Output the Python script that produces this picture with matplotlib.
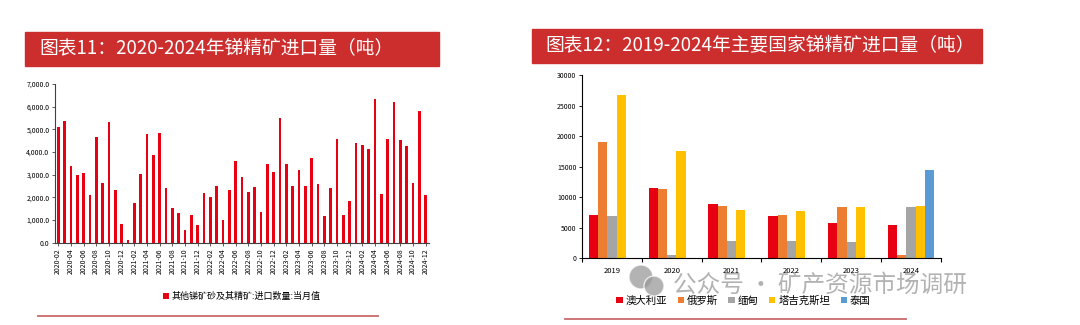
import matplotlib.pyplot as plt
import matplotlib.patches as patches
from matplotlib.ticker import FuncFormatter
import numpy as np

plt.rcParams['font.family'] = ['Noto Sans CJK SC', 'DejaVu Sans']

# chart 11: monthly imports 2020-02 .. 2024-12
months = [f'{y}-{m:02d}' for y in range(2020, 2025) for m in range(1, 13)][1:]
monthly_imports = [
    5090, 5350, 3380, 2970, 3060, 2100, 4660, 2630, 5310, 2310, 840,
    120, 1750, 3030, 4790, 3870, 4850, 2410, 1510, 1290, 540, 1240, 790,
    2180, 2010, 2500, 1000, 2320, 3600, 2880, 2240, 2470, 1350, 3460, 3130,
    5490, 3460, 2500, 3190, 2500, 3720, 2570, 1190, 2430, 4570, 1240, 1840,
    4400, 4310, 4120, 6350, 2150, 4570, 6210, 4510, 4260, 2630, 5810, 2090,
]

# chart 12: yearly imports by country
years = ['2019', '2020', '2021', '2022', '2023', '2024']
countries = ['澳大利亚', '俄罗斯', '缅甸', '塔吉克斯坦', '泰国']
australia = [7050, 11530, 8900, 6890, 5740, 5460]
russia = [19000, 11370, 8520, 7100, 8360, 490]
myanmar = [6940, 550, 2790, 2790, 2620, 8360]
tajikistan = [26780, 17540, 7920, 7810, 8420, 8580]
thailand = [0, 0, 0, 0, 0, 14480]
colors = ['#E60012', '#ED7D31', '#A5A5A5', '#FFC000', '#5B9BD5']

W, H = 1080, 325
fig = plt.figure(figsize=(10.8, 3.25), dpi=100)


def px(x, y):
    # pixel position (from top-left) -> figure fraction
    return x / W, 1 - y / H


# title banners
fig.patches.append(patches.Rectangle(px(25, 66), 414 / W, 34 / H,
                                     transform=fig.transFigure, color='#CC2E2E', zorder=0))
fig.text(*px(39, 49), '图表11：2020-2024年锑精矿进口量（吨）', color='white',
         fontsize=13.5, va='center', ha='left')
fig.patches.append(patches.Rectangle(px(532, 63), 450 / W, 34 / H,
                                     transform=fig.transFigure, color='#CC2E2E', zorder=0))
fig.text(*px(545, 46), '图表12：2019-2024年主要国家锑精矿进口量（吨）', color='white',
         fontsize=13.5, va='center', ha='left')

# bottom lines
fig.add_artist(plt.Line2D([38 / W, 378 / W], [1 - 315.7 / H] * 2,
                          transform=fig.transFigure, color='#C96B6B', lw=1.3))
fig.add_artist(plt.Line2D([565 / W, 906 / W], [1 - 319 / H] * 2,
                          transform=fig.transFigure, color='#C96B6B', lw=1.3))

# left chart
ax1 = fig.add_axes([55 / W, 1 - 242.7 / H, 374 / W, (242.7 - 84) / H])
x1 = np.arange(len(months))
ax1.bar(x1, monthly_imports, width=0.42, color='#E60012',
        label='其他锑矿砂及其精矿:进口数量:当月值')
ax1.set_xlim(-0.5, len(months) - 0.5)
ax1.set_ylim(0, 7000)
ax1.set_yticks(range(0, 7001, 1000))
ax1.yaxis.set_major_formatter(FuncFormatter(lambda v, p: f'{v:,.1f}'))
ax1.set_xticks(x1[::2])
ax1.set_xticklabels(months[::2], rotation=90)
ax1.tick_params(axis='both', labelsize=5, length=2, width=0.6, color='#404040', pad=2)
for s in ['top', 'right']:
    ax1.spines[s].set_visible(False)
for s in ['left', 'bottom']:
    ax1.spines[s].set_color('#404040')
    ax1.spines[s].set_linewidth(0.8)
ax1.legend(loc='center', bbox_to_anchor=(0.5, -0.34), frameon=False, fontsize=6.5,
           handlelength=0.6, handleheight=0.6, handletextpad=0.3)

# right chart
ax2 = fig.add_axes([582 / W, 1 - 258.3 / H, 359 / W, (258.3 - 75.3) / H])
x2 = np.arange(len(years))
w = 0.155
series = [australia, russia, myanmar, tajikistan, thailand]
for i, (vals, name, c) in enumerate(zip(series, countries, colors)):
    ax2.bar(x2 + (i - 2) * w, vals, width=w, color=c, label=name)
ax2.set_xlim(-0.5, len(years) - 0.5)
ax2.set_ylim(0, 30000)
ax2.set_yticks(range(0, 30001, 5000))
ax2.set_xticks(x2)
ax2.set_xticklabels(years)
ax2.set_xticks(np.arange(-0.5, len(years), 1), minor=True)
ax2.tick_params(axis='x', which='major', length=0, labelsize=5.5, pad=6)
ax2.tick_params(axis='x', which='minor', length=3, width=0.8, color='black')
ax2.tick_params(axis='y', labelsize=5, length=2, width=0.6, pad=2)
for s in ['top', 'right']:
    ax2.spines[s].set_visible(False)
for s in ['left', 'bottom']:
    ax2.spines[s].set_color('black')
    ax2.spines[s].set_linewidth(0.8)
ax2.legend(loc='center', bbox_to_anchor=(0.45, -0.23), ncol=5, frameon=False, fontsize=7.5,
           handlelength=0.6, handleheight=0.6, handletextpad=0.3, columnspacing=1.0)

# watermark with chat-bubble icon
for cx, cy, r in [(641, 277, 12), (654, 286, 10)]:
    fig.patches.append(patches.Ellipse(px(cx, cy), 2 * r / W, 2 * r / H, transform=fig.transFigure,
                                       facecolor='#9A9A9A', edgecolor='white', lw=1, alpha=0.75))
fig.text(*px(673, 285), '公众号 · 矿产资源市场调研', color='#808080', alpha=0.6,
         fontsize=17, va='center', ha='left')

fig.savefig('out.png', dpi=100)
